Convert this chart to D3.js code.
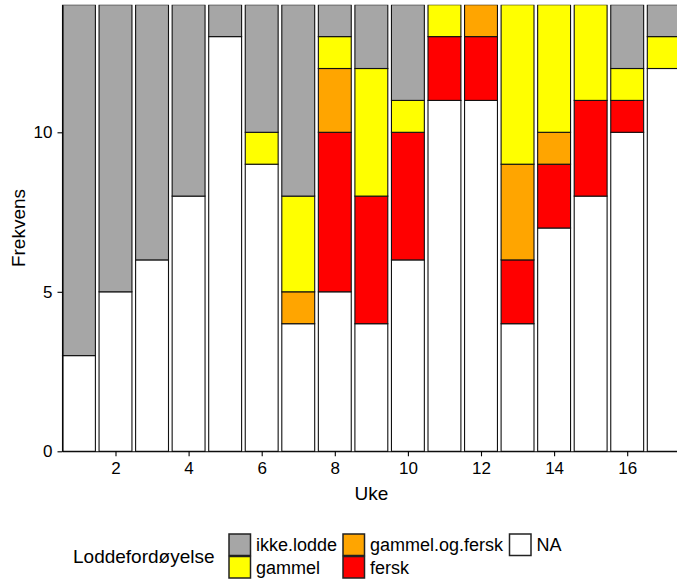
<html>
<head>
    <meta charset="utf-8">
    <style>
        body { margin: 0; background: #fff; }
        text { font-family: "Liberation Sans", Arial, sans-serif; fill: #000; }
    </style>
</head>
<body>
    <script src="https://cdn.jsdelivr.net/npm/d3@7/dist/d3.min.js"></script>
    <script>
        // uke 1..17
        var weeks = [1, 2, 3, 4, 5, 6, 7, 8, 9, 10, 11, 12, 13, 14, 15, 16, 17];
        // stablet nedenfra og opp
        var categories = ["NA", "fersk", "gammel.og.fersk", "gammel", "ikke.lodde"];
        var naVals     = [3, 5, 6, 8, 13, 9, 4, 5, 4, 6, 11, 11, 4, 7, 8, 10, 12];
        var ferskVals  = [0, 0, 0, 0, 0, 0, 0, 5, 4, 4, 2, 2, 2, 2, 3, 1, 0];
        var gogfVals   = [0, 0, 0, 0, 0, 0, 1, 2, 0, 0, 0, 1, 3, 1, 0, 0, 0];
        var gammelVals = [0, 0, 0, 0, 0, 1, 3, 1, 4, 1, 1, 0, 5, 4, 3, 1, 1];
        var ikkeVals   = [11, 9, 8, 6, 1, 4, 6, 1, 2, 3, 0, 0, 0, 0, 0, 2, 1];
        var xTicks = [2, 4, 6, 8, 10, 12, 14, 16];
        var yTicks = [0, 5, 10];
        // legend-rekkefølge (kolonnevis)
        var legendOrder = ["ikke.lodde", "gammel", "gammel.og.fersk", "fersk", "NA"];

        var colors = {
            "NA": "#ffffff",
            "fersk": "#ff0000",
            "gammel.og.fersk": "#ffa500",
            "gammel": "#ffff00",
            "ikke.lodde": "#a6a6a6"
        };

        var width = 677, height = 584;
        var svg = d3.select("body").append("svg")
            .attr("width", width)
            .attr("height", height);

        var table = weeks.map(function (w, i) {
            return {
                uke: w,
                "NA": naVals[i],
                "fersk": ferskVals[i],
                "gammel.og.fersk": gogfVals[i],
                "gammel": gammelVals[i],
                "ikke.lodde": ikkeVals[i]
            };
        });

        var x = d3.scaleLinear().domain([0.55, 17.45]).range([62.5, 680.2]);
        var y = d3.scaleLinear().domain([0, 14]).range([451.3, 4.7]);
        var barW = (x(1.45) - x(0.55));

        var series = d3.stack().keys(categories)(table);

        svg.append("clipPath").attr("id", "panel")
            .append("rect")
            .attr("x", 0).attr("y", y(14))
            .attr("width", width).attr("height", y(0) - y(14) + 2);

        var bars = svg.append("g").attr("clip-path", "url(#panel)");
        bars.selectAll("g")
            .data(series)
            .enter().append("g")
            .attr("fill", function (d) { return colors[d.key]; })
            .selectAll("rect")
            .data(function (d) { return d.filter(function (s) { return s[1] - s[0] > 0; }); })
            .enter().append("rect")
            .attr("x", function (d) { return x(d.data.uke) - barW / 2; })
            .attr("y", function (d) { return y(d[1]); })
            .attr("width", barW)
            .attr("height", function (d) { return y(d[0]) - y(d[1]); })
            .attr("stroke", "#111")
            .attr("stroke-width", 1.1);

        // akser
        var xAxis = svg.append("g")
            .attr("transform", "translate(0," + y(0) + ")")
            .call(d3.axisBottom(x).tickValues(xTicks).tickSize(5).tickSizeOuter(0)
                .tickPadding(6).tickFormat(d3.format("d")));
        xAxis.select(".domain").attr("stroke", "#000").attr("stroke-width", 1.1);
        xAxis.selectAll(".tick line").attr("stroke", "#000").attr("stroke-width", 1.1);
        xAxis.selectAll("text").style("font-size", "17px").attr("fill", "#1a1a1a")
            .style("font-family", "'Liberation Sans', Arial, sans-serif");

        var yAxis = svg.append("g")
            .attr("transform", "translate(" + x(0.55) + ",0)")
            .call(d3.axisLeft(y).tickValues(yTicks).tickSize(5).tickSizeOuter(0).tickPadding(5));
        yAxis.select(".domain").attr("stroke", "#000").attr("stroke-width", 1.1);
        yAxis.selectAll(".tick line").attr("stroke", "#000").attr("stroke-width", 1.1);
        yAxis.selectAll("text").style("font-size", "17px").attr("fill", "#1a1a1a")
            .style("font-family", "'Liberation Sans', Arial, sans-serif");

        svg.append("text")
            .attr("x", (x(0.55) + x(17.45)) / 2)
            .attr("y", 500)
            .attr("text-anchor", "middle")
            .style("font-size", "19px")
            .text("Uke");

        svg.append("text")
            .attr("transform", "translate(25," + (y(0) + y(14)) / 2 + ") rotate(-90)")
            .attr("text-anchor", "middle")
            .style("font-size", "19px")
            .text("Frekvens");

        // legend
        var legend = svg.append("g");
        legend.append("text")
            .attr("x", 73)
            .attr("y", 563)
            .style("font-size", "19px")
            .text("Loddefordøyelse");

        var colX = [229, 343, 509.5];
        var rowY = [534, 556.5];
        var items = legend.selectAll(".key")
            .data(legendOrder)
            .enter().append("g")
            .attr("class", "key")
            .attr("transform", function (d, i) {
                return "translate(" + colX[Math.floor(i / 2)] + "," + rowY[i % 2] + ")";
            });
        items.append("rect")
            .attr("width", 21.5)
            .attr("height", 21.5)
            .attr("fill", function (d) { return colors[d]; })
            .attr("stroke", "#222")
            .attr("stroke-width", 1.5);
        items.append("text")
            .attr("x", 27)
            .attr("y", 17)
            .style("font-size", "18px")
            .text(function (d) { return d; });
    </script>
</body>
</html>
